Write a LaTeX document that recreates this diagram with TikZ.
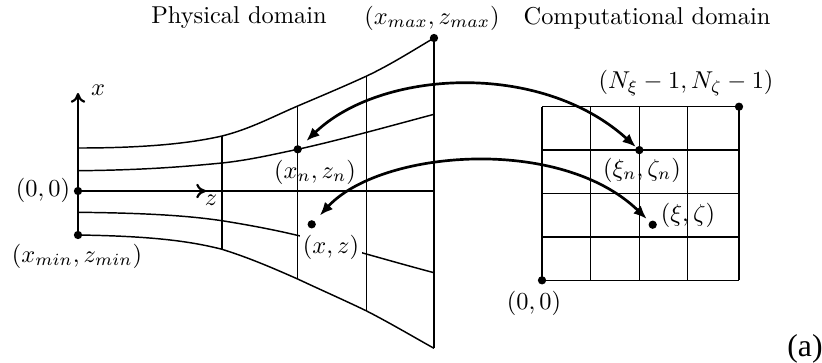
\documentclass[tikz,border=0pt]{standalone}
\usepackage{fontspec}
\newfontfamily\timesf{Liberation Serif}
\usetikzlibrary{arrows.meta}
\begin{document}
\begin{tikzpicture}[x=0.41pt,y=-0.41pt,
  gridline/.style={line width=0.6pt},
  dot/.style={circle,fill=black,inner sep=0pt,minimum size=3.4pt},
  axis/.style={line width=0.9pt,-{To[length=4pt,width=6pt]}},
  maparrow/.style={line width=1.1pt,{Latex[length=5.5pt,width=4.5pt]}-{Latex[length=5.5pt,width=4.5pt]}},
  lbl/.style={inner sep=1pt}]
\useasboundingbox (0,0) rectangle (822,362);
% ---------- physical domain grid ----------
\draw[gridline] (78,148) .. controls (160,148) and (200,141) .. (222,136)
  .. controls (250,129) and (272,117) .. (297.7,106)
  .. controls (320,96.5) and (345,86) .. (366.7,76)
  .. controls (390,65) and (412,51) .. (434,38);
\draw[gridline] (78,170.7) .. controls (150,170) and (190,166) .. (222,163)
  .. controls (250,160) and (275,154) .. (297.7,149.3)
  .. controls (340,140) and (390,126) .. (434,114.3);
\draw[gridline] (78,191) -- (434,191);
\draw[gridline] (78,212.3) .. controls (150,213) and (190,216) .. (222,220.7)
  .. controls (255,226) and (280,231) .. (303,236.7)
  .. controls (350,249) and (390,261) .. (434,272.7);
\draw[gridline] (78,235) .. controls (150,236) and (190,241) .. (222,249.3)
  .. controls (250,258) and (275,269) .. (297.7,279)
  .. controls (320,289.5) and (345,300.5) .. (366.7,311)
  .. controls (390,323) and (412,336) .. (434,348.3);
\draw[gridline] (78,148) -- (78,235);
\draw[gridline] (222,136) -- (222,249.3);
\draw[gridline] (297.7,106) -- (297.7,279);
\draw[gridline] (366.7,76) -- (366.7,311);
\draw[gridline] (434,38) -- (434,348.3);
% axes
\coordinate (o) at (78,191);
\coordinate (xend) at (78,93);
\coordinate (zend) at (206,191);
\draw[axis] (o) -- (xend);
\draw[axis] (o) -- (zend);
\node[lbl] (xl) at (98,90) {$x$};
\node[lbl] (zl) at (211,200) {$z$};
% dots
\node[dot] (p0) at (78,191) {};
\node[dot] (pmin) at (78,235) {};
\node[dot] (pmax) at (434,38) {};
\node[dot] (pn) at (297.7,149.3) {};
\node[dot] (p) at (311.7,224.3) {};
% labels
\node[lbl,anchor=east] (l0) at (73,190) {$(0,0)$};
\node[lbl] (lmin) at (77,256) {$(x_{min},z_{min})$};
\node[lbl] (lmax) at (432,18) {$(x_{max},z_{max})$};
\node[lbl] (ln) at (315,172) {$(x_n,z_n)$};
\node[lbl,fill=white] (lp) at (331,247) {$(x,z)$};
\node[lbl] (phys) at (239,18) {Physical domain};
\node[lbl] (comp) at (647,18) {Computational domain};
% ---------- computational grid ----------
\foreach \xx in {542,590.7,639.3,687.3,739} \draw[gridline] (\xx,106.7) -- (\xx,280.3);
\foreach \yy in {106.7,150.1,193.5,236.9,280.3} \draw[gridline] (542,\yy) -- (739,\yy);
\node[dot] (q0) at (542,280.3) {};
\node[dot] (qN) at (739,106.7) {};
\node[dot] (qn) at (639.3,150.1) {};
\node[dot] (q) at (652.7,224.7) {};
\node[lbl] (lq0) at (534,303) {$(0,0)$};
\node[lbl] (lqN) at (686,83) {$(N_\xi-1,N_\zeta-1)$};
\node[lbl] (lqn) at (642,170) {$(\xi_n,\zeta_n)$};
\node[lbl] (lq) at (688,215) {$(\xi,\zeta)$};
% ---------- mapping arrows ----------
\draw[maparrow,shorten <=3pt] (pn) .. controls (380,70) and (540,60) .. (qn);
\draw[maparrow,shorten <=3pt,shorten >=1.5pt] (p) .. controls (380,150) and (560,135) .. (q);
\node[lbl] (tag) at (805,349) {\timesf\fontsize{13}{15}\selectfont (a)};
\end{tikzpicture}
\end{document}
